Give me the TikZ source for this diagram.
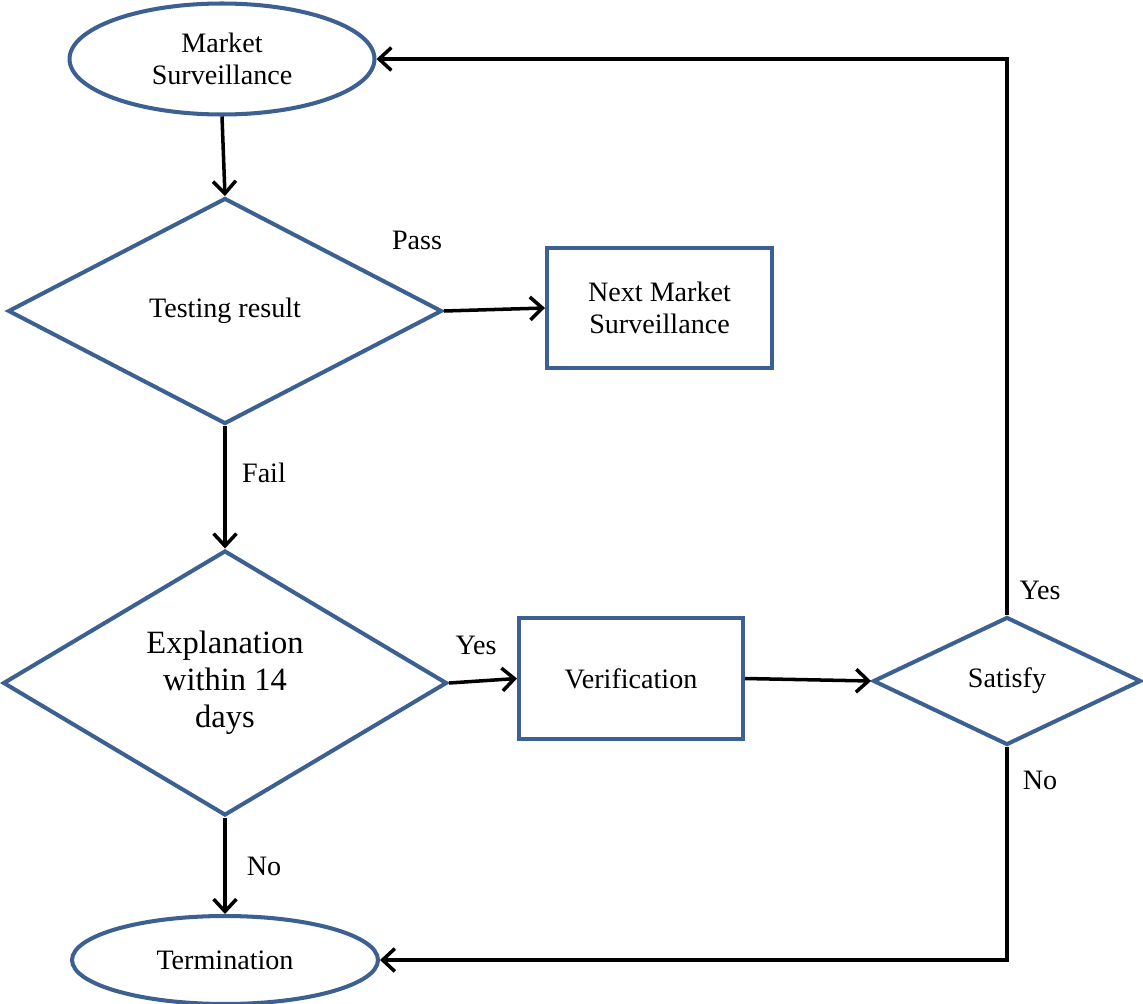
\documentclass[tikz,border=0pt]{standalone}
\usepackage{fontspec}
\setmainfont{Liberation Serif}
\usetikzlibrary{shapes.geometric,arrows.meta}
\definecolor{nodeblue}{RGB}{60,96,145}
\tikzset{
  base/.style={draw=nodeblue, line width=2.3pt, fill=white, align=center, inner sep=0pt,
    font=\fontsize{16}{18.5}\selectfont},
  oval/.style={base, ellipse},
  box/.style={base, rectangle},
  decision/.style={base, diamond},
  arr/.style={line width=2pt, -{Straight Barb[length=7pt,width=13pt,line width=2pt]}},
  lbl/.style={font=\fontsize{16}{18}\selectfont, inner sep=0pt}
}
\begin{document}
\begin{tikzpicture}[x=0.02cm,y=-0.02cm]
\useasboundingbox (0,0) rectangle (1143,1004);
\node[oval, minimum width=6.1cm, minimum height=2.22cm] (ms) at (222,59) {Market\\Surveillance};
\node[decision, minimum width=8.68cm, minimum height=4.52cm] (tr) at (225,311) {Testing result};
\node[box, minimum width=4.5cm, minimum height=2.4cm] (nm) at (659.5,308) {Next Market\\Surveillance};
\node[decision, minimum width=8.88cm, minimum height=5.3cm, font=\fontsize{18.5}{21}\selectfont] (ex) at (225,683) {Explanation\\within 14\\days};
\node[box, minimum width=4.48cm, minimum height=2.42cm] (ve) at (631,678.5) {Verification};
\node[decision, minimum width=5.36cm, minimum height=2.56cm] (sa) at (1007,681) {Satisfy};
\node[oval, minimum width=6.12cm, minimum height=1.76cm] (te) at (225,960) {Termination};

\draw[arr] (ms.south) -- (tr.north);
\draw[arr] (tr.east) -- (nm.west);
\draw[arr] (tr.south) -- (ex.north);
\draw[arr] (ex.east) -- (ve.west);
\draw[arr] (ve.east) -- (sa.west);
\draw[arr] (sa.north) |- (ms.east);
\draw[arr] (sa.south) |- (te.east);
\draw[arr] (ex.south) -- (te.north);

\node[lbl] (lpass) at (417,240) {Pass};
\node[lbl] (lfail) at (264,473) {Fail};
\node[lbl] (lyes1) at (476,645) {Yes};
\node[lbl] (lyes2) at (1040,590) {Yes};
\node[lbl] (lno1) at (1040,780) {No};
\node[lbl] (lno2) at (264,866) {No};
\end{tikzpicture}
\end{document}
